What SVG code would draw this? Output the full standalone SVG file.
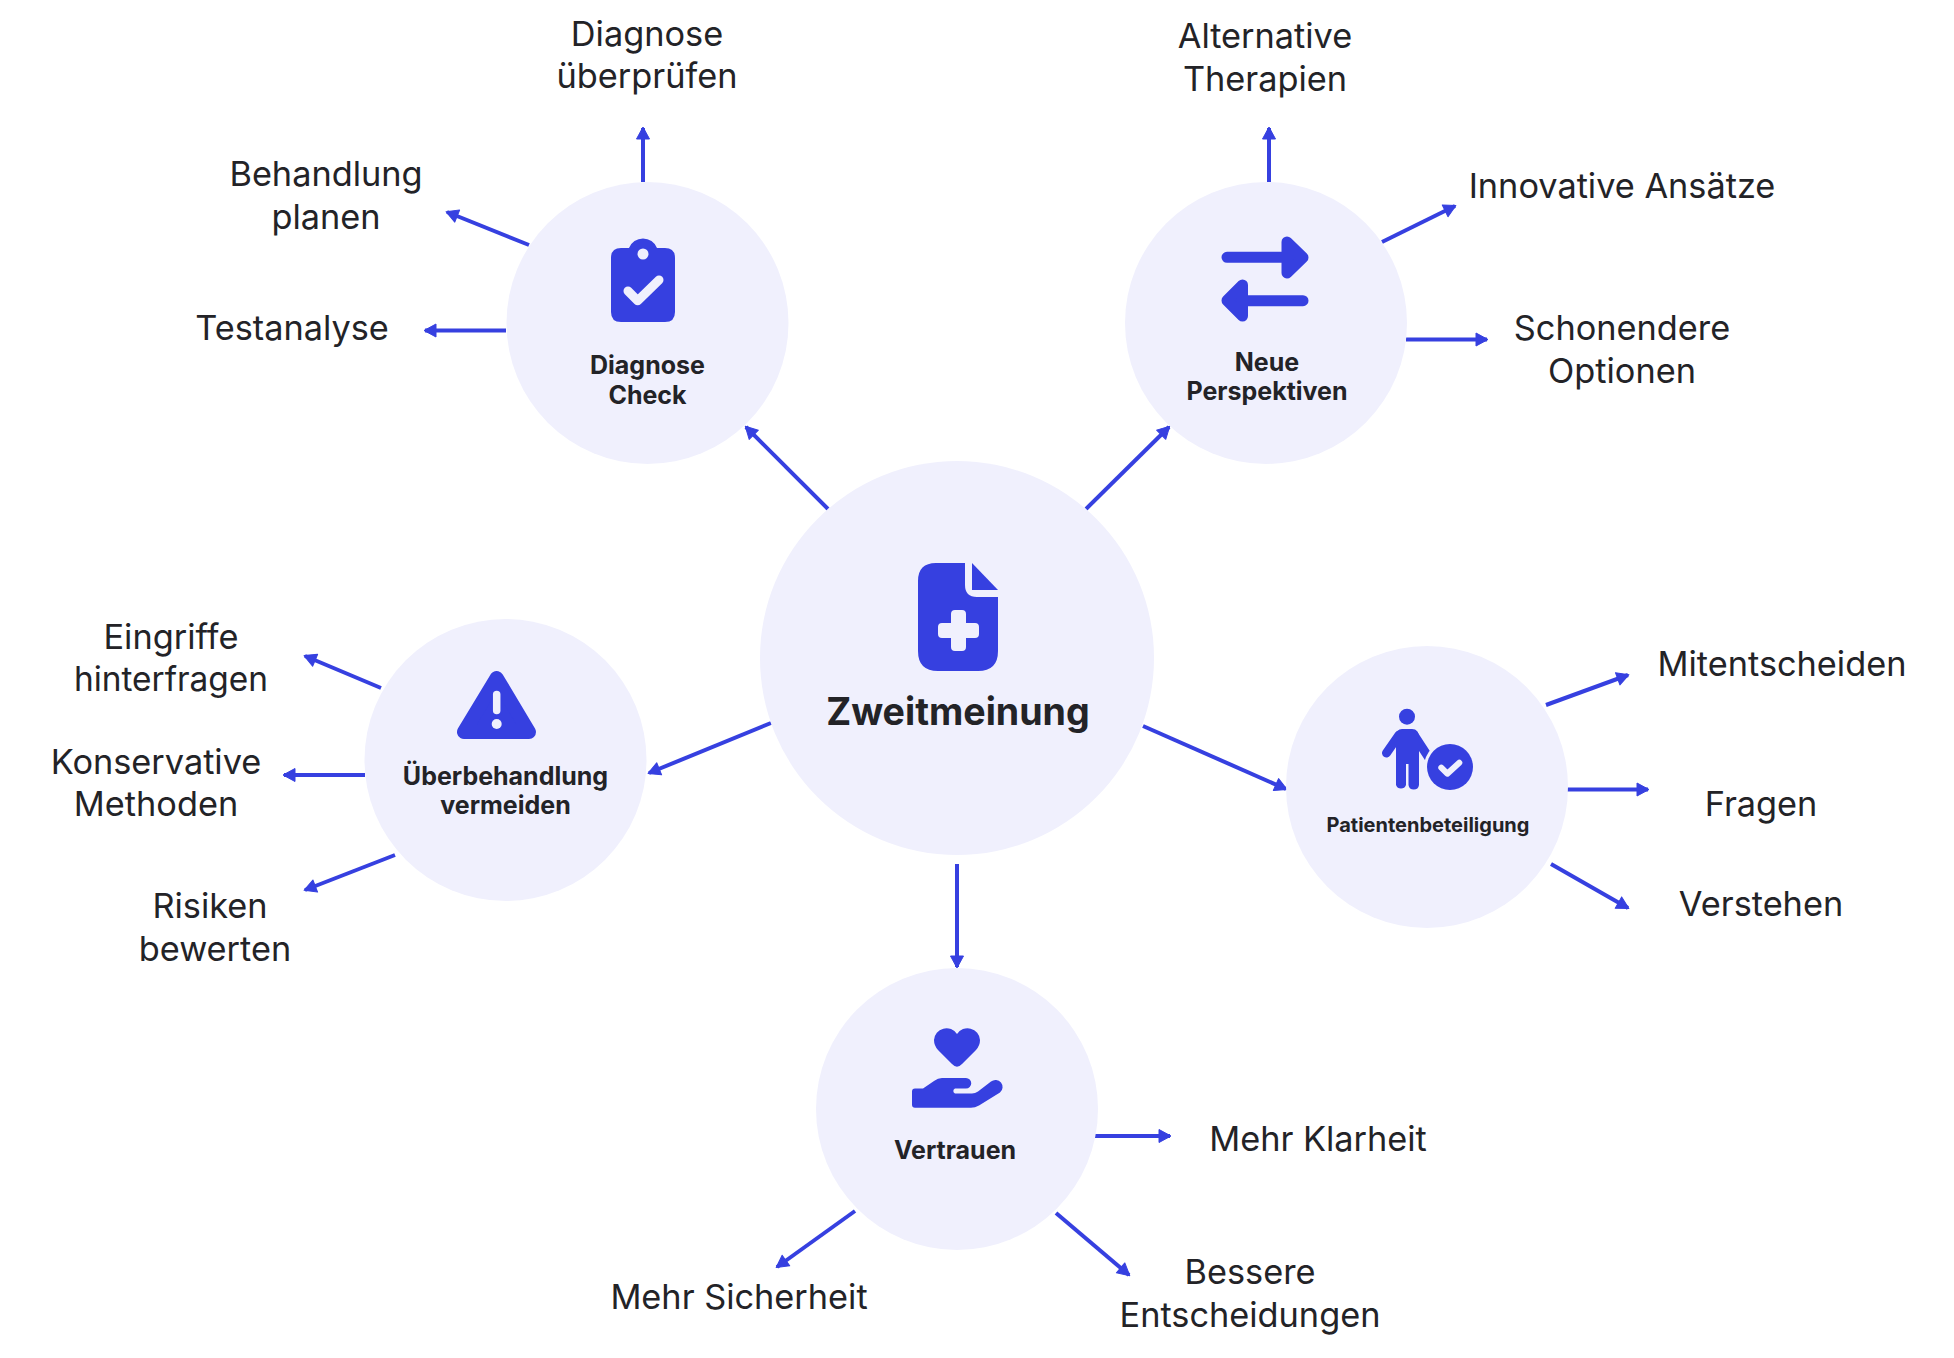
<svg xmlns="http://www.w3.org/2000/svg" width="1954" height="1358" viewBox="0 0 1954 1358">
<style>
text{font-family:Inter,"Liberation Sans",sans-serif;fill:#232327;text-anchor:middle}
.l{font-size:34.300px;font-weight:400}
.h{font-size:25px;font-weight:700}
.c{fill:#F0F0FD}
.i{fill:#3640E0}
.w{fill:none;stroke:#F0F0FD;stroke-linecap:round;stroke-linejoin:round}
.a{fill:none;stroke:#3640E0;stroke-width:4;marker-end:url(#m)}
</style>
<defs><marker id="m" markerUnits="userSpaceOnUse" markerWidth="18" markerHeight="18" refX="13" refY="9" orient="auto"><path d="M2 2.500L14 9L2 15.500Z" fill="#3640E0" stroke="#3640E0" stroke-width="1" stroke-linejoin="round"/></marker></defs>
<rect width="1954" height="1358" fill="#fff"/>
<g id="connectors">
<path class="a" d="M828 509L746 427"/><path class="a" d="M1086 509L1169 427"/><path class="a" d="M771 723L649 773"/><path class="a" d="M1143 726L1286 789"/><path class="a" d="M957 864V967"/>
<path class="a" d="M643 182V128"/><path class="a" d="M529 245L447 212"/><path class="a" d="M506 330.500H425"/>
<path class="a" d="M1269 182V128"/><path class="a" d="M1382 242L1455 206"/><path class="a" d="M1406 339.500H1487"/>
<path class="a" d="M381 688L305 656"/><path class="a" d="M365 775H284"/><path class="a" d="M395 855L305 890"/>
<path class="a" d="M1546 705L1628 675"/><path class="a" d="M1566 789.500H1648"/><path class="a" d="M1551 864L1628 908"/>
<path class="a" d="M1095 1136H1170"/><path class="a" d="M855 1211L777 1267"/><path class="a" d="M1056 1213L1129 1275"/>
</g>
<g id="center"><circle class="c" cx="957" cy="658" r="197"/>
<path class="i" d="M936 563H965V585Q965 597 977 597H998V651Q998 671 978 671H938Q918 671 918 651V581Q918 563 936 563Z"/>
<path class="i" d="M972 563L998 590H972Z"/>
<path class="c" d="M955 610H962Q966 610 966 614V623H975Q979 623 979 627V634Q979 638 975 638H966V647Q966 651 962 651H955Q951 651 951 647V638H942Q938 638 938 634V627Q938 623 942 623H951V614Q951 610 955 610Z"/>
<text x="958" y="725" font-size="37.600" font-weight="700">Zweitmeinung</text></g>
<g id="diagnose"><circle class="c" cx="647.500" cy="323" r="141"/>
<path class="i" d="M629 248A15 15 0 0 1 657 248H665Q675 248 675 258V312Q675 322 665 322H621Q611 322 611 312V258Q611 248 621 248Z"/>
<circle cx="643" cy="254" r="5.500" fill="#F0F0FD"/>
<path class="w" style="stroke-width:9" d="M628 291L637.700 300.700L659 280"/>
<text class="h" x="647.500" y="373.500">Diagnose</text><text class="h" x="647.500" y="403.500">Check</text></g>
<g id="neue"><circle class="c" cx="1266" cy="323" r="141"/>
<path d="M1227 257.300H1290M1303 300.700H1240" fill="none" stroke="#3640E0" stroke-width="11" stroke-linecap="round"/>
<path class="i" stroke="#3640E0" stroke-width="11" stroke-linejoin="round" d="M1287 242L1303 257.500L1287 273Z"/>
<path class="i" stroke="#3640E0" stroke-width="11" stroke-linejoin="round" d="M1242.500 285L1227 300.500L1242.500 316Z"/>
<text class="h" x="1267" y="371">Neue</text><text class="h" x="1267" y="400">Perspektiven</text></g>
<g id="ueberbehandlung"><circle class="c" cx="505.500" cy="760" r="141"/>
<path class="i" stroke="#3640E0" stroke-width="14" stroke-linejoin="round" d="M496.700 678L464 732H529Z"/>
<path d="M496.700 694.500V710.500" fill="none" stroke="#F0F0FD" stroke-width="7.500" stroke-linecap="round"/>
<circle cx="496.700" cy="724" r="5" fill="#F0F0FD"/>
<text class="h" x="505.500" y="785">Überbehandlung</text><text class="h" x="505.500" y="814">vermeiden</text></g>
<g id="patientenbeteiligung"><circle class="c" cx="1427" cy="787" r="141"/>
<circle class="i" cx="1407" cy="716.700" r="8"/>
<path d="M1399 735L1386.500 753M1414 735L1429 758" fill="none" stroke="#3640E0" stroke-width="9" stroke-linecap="round"/>
<path class="i" d="M1402 729H1412Q1419 729 1419 738V785A5.300 5.300 0 0 1 1408.500 785V764H1406V785A5.300 5.300 0 0 1 1396 785V738Q1396 729 1402 729Z"/>
<circle class="c" cx="1450" cy="767" r="26"/>
<circle class="i" cx="1450" cy="767" r="23"/>
<path class="w" style="stroke-width:6" d="M1441.300 767.700L1447.300 773.700L1459.300 762.700"/>
<text x="1428" y="832" font-size="20" font-weight="700">Patientenbeteiligung</text></g>
<g id="vertrauen"><circle class="c" cx="957" cy="1109" r="141"/>
<path class="i" d="M957 1066.700Q954.500 1066.700 952 1064L938 1050Q934 1045.500 934 1040A12.500 12.500 0 0 1 957 1034A12.500 12.500 0 0 1 980 1040Q980 1045.500 976 1050L962 1064Q959.500 1066.700 957 1066.700Z"/>
<path class="i" d="M915 1088.500H923L934 1081Q938 1078 942 1078H966A5.200 5.200 0 0 1 966 1088.500H955A2.700 2.700 0 0 0 955 1093.500H972Q975 1093.500 978 1091.500L991 1081.500A6.800 6.800 0 0 1 1000 1092.500L979 1105.500Q975 1107.700 971 1107.700H915A3 3 0 0 1 912 1104.700V1091.500A3 3 0 0 1 915 1088.500Z"/>
<text class="h" x="955" y="1158.500">Vertrauen</text></g>
<g id="labels">
<text class="l" x="647" y="46">Diagnose</text><text class="l" x="647" y="88" font-size="34">überprüfen</text>
<text class="l" x="326" y="186">Behandlung</text><text class="l" x="326" y="229">planen</text>
<text class="l" x="292" y="340">Testanalyse</text>
<text class="l" x="1265" y="48">Alternative</text><text class="l" x="1265" y="91">Therapien</text>
<text class="l" x="1622" y="198">Innovative Ansätze</text>
<text class="l" x="1622" y="340">Schonendere</text><text class="l" x="1622" y="383">Optionen</text>
<text class="l" x="171" y="649">Eingriffe</text><text class="l" x="171" y="691" style="font-size:33.400px">hinterfragen</text>
<text class="l" x="156" y="773.500">Konservative</text><text class="l" x="156" y="816">Methoden</text>
<text class="l" x="210" y="918">Risiken</text><text class="l" x="215" y="961">bewerten</text>
<text class="l" x="1782" y="675.500">Mitentscheiden</text>
<text class="l" x="1761" y="816">Fragen</text>
<text class="l" x="1761" y="916">Verstehen</text>
<text class="l" x="1318" y="1151">Mehr Klarheit</text>
<text class="l" x="739" y="1309">Mehr Sicherheit</text>
<text class="l" x="1250" y="1284">Bessere</text><text class="l" x="1250" y="1327">Entscheidungen</text>
</g>
</svg>
